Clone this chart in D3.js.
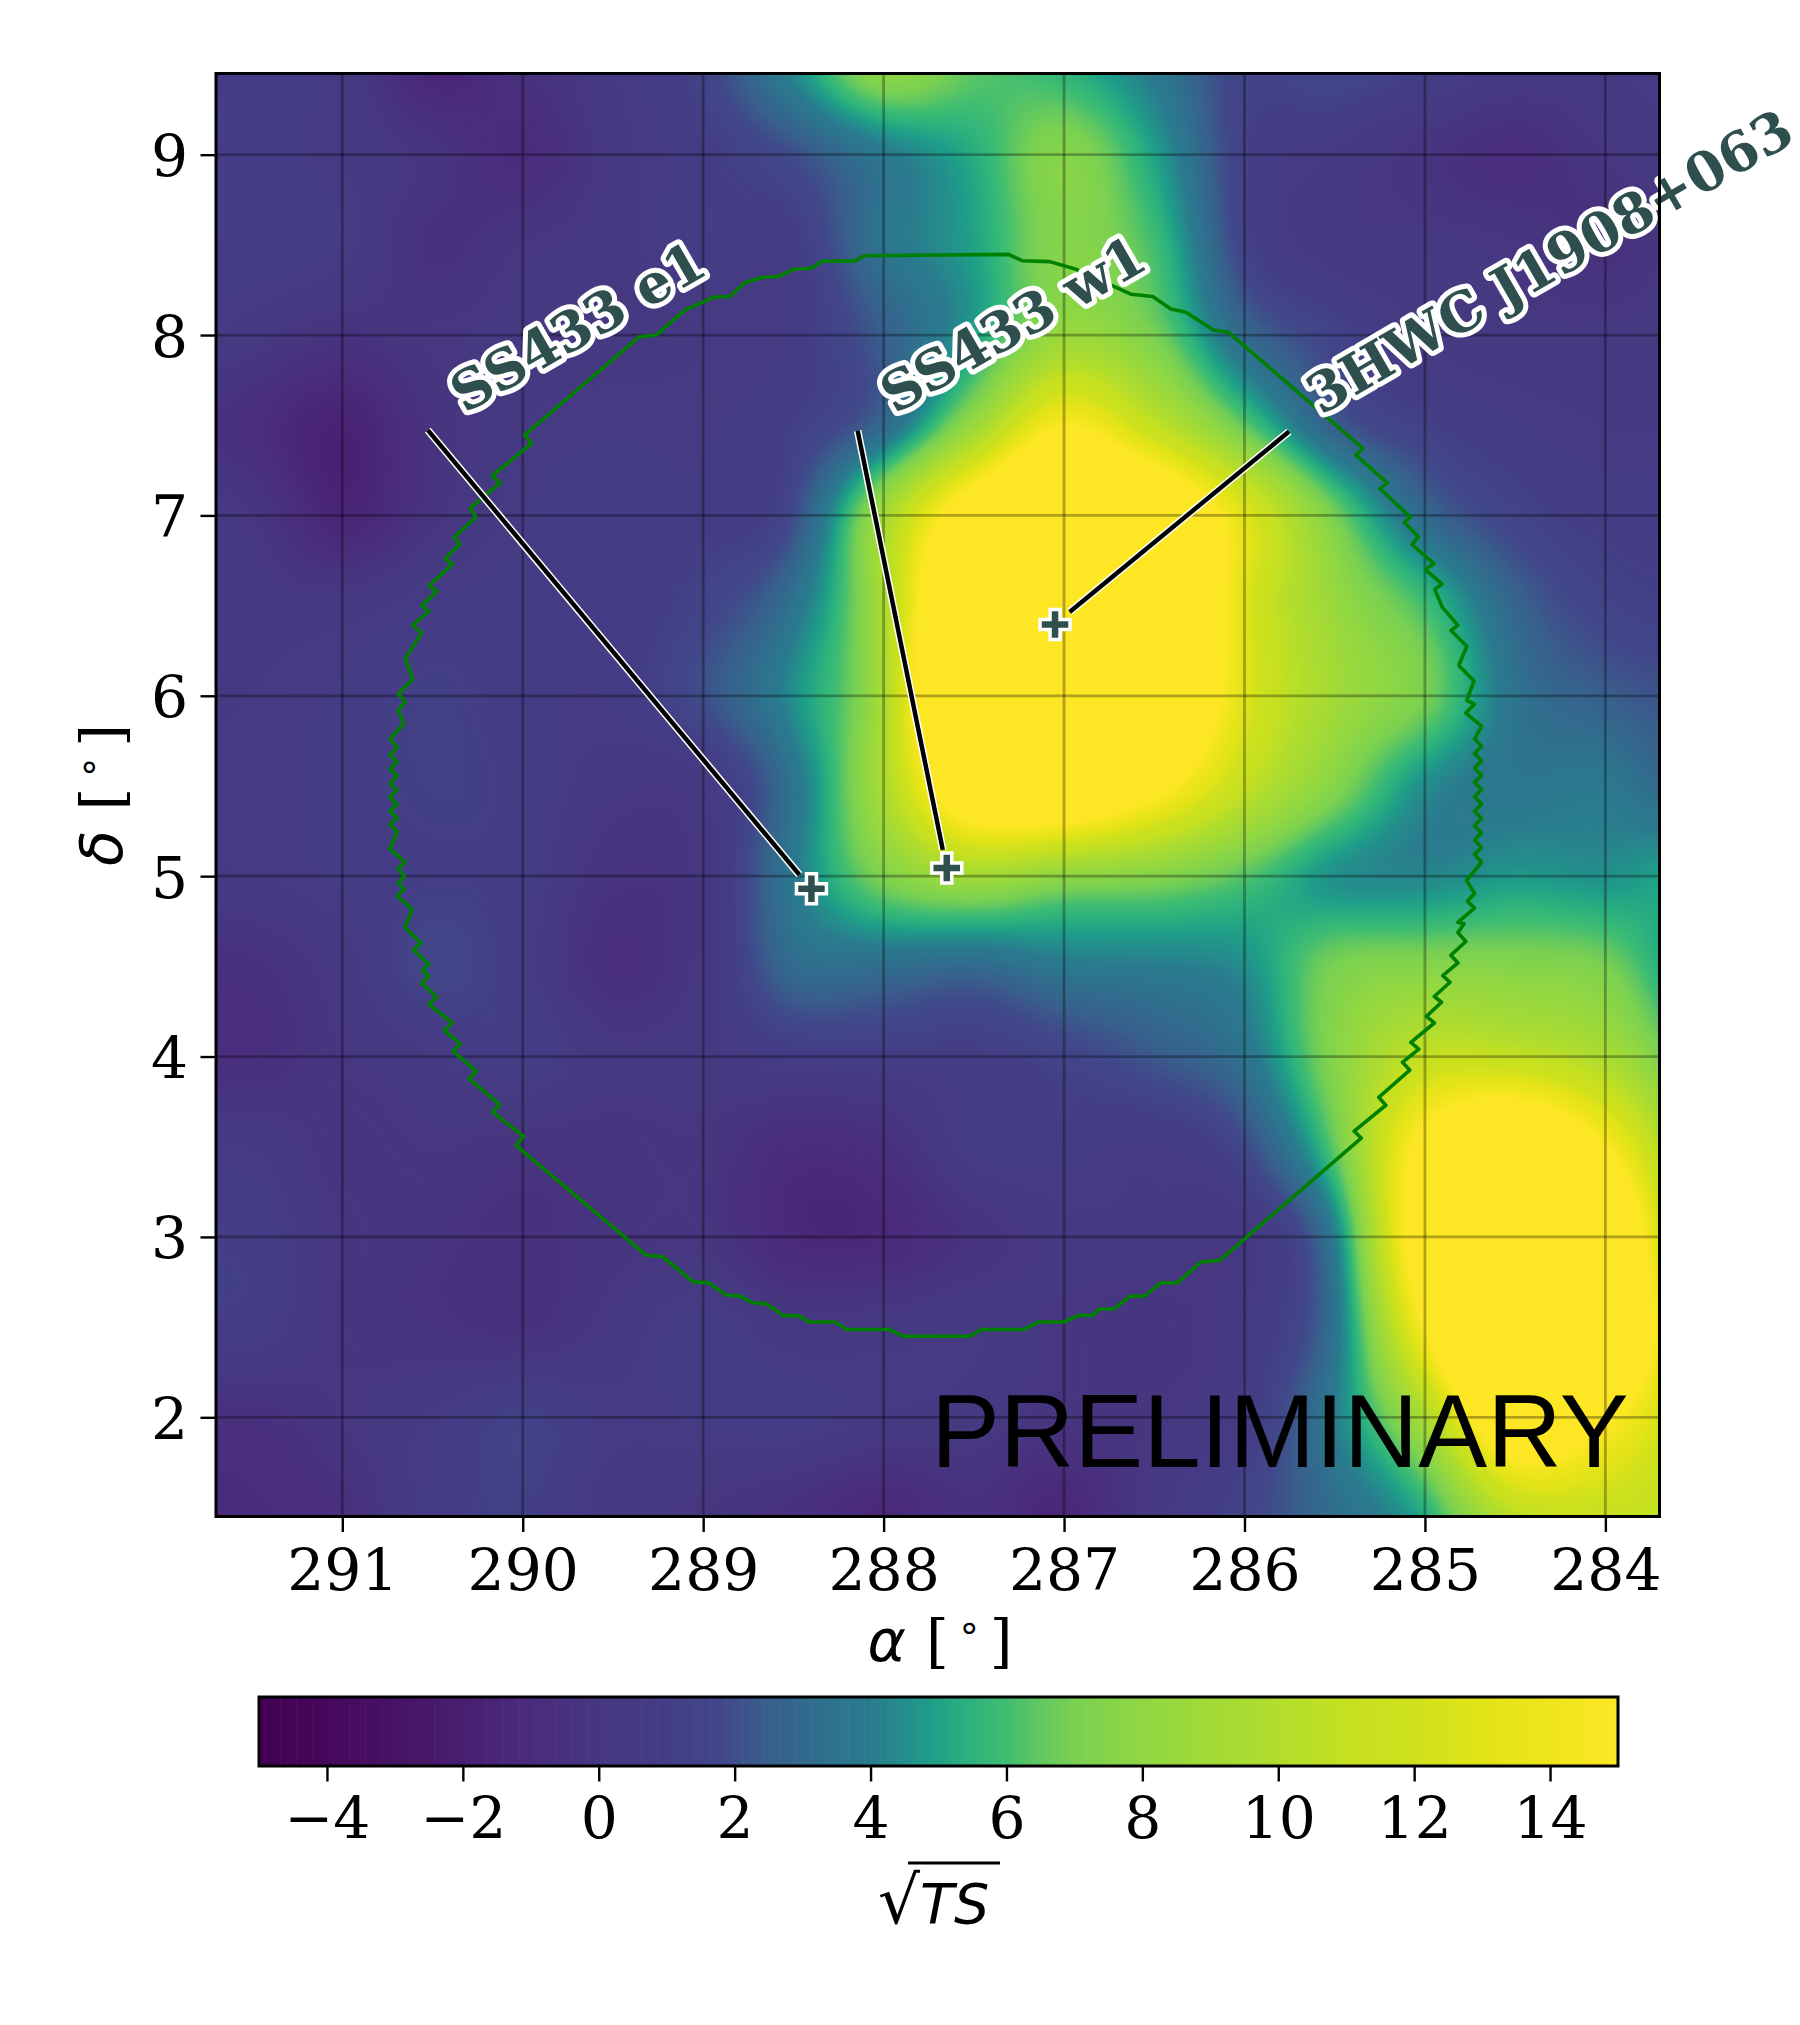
<!DOCTYPE html>
<html lang="en">
<head>
    <meta charset="UTF-8">
    <title>SS433 significance map</title>
    <style>
        body { margin: 0; background: white; }
        text { font-family: "DejaVu Serif", serif; fill: black; }
        .math { font-family: "DejaVu Sans", sans-serif; font-style: italic; }
    </style>
</head>
<body>
    <div id="chart"></div>
    <script src="https://d3js.org/d3.v7.min.js"></script>
    <script>
        // significance values, on a half degree grid
        const raKnots = [292, 291.5, 291, 290.5, 290, 289.5, 289, 288.5, 288, 287.5, 287, 286.5, 286, 285.5, 285, 284.5, 284, 283.5];
        const decKnots = [9.5, 9, 8.5, 8, 7.5, 7, 6.5, 6, 5.5, 5, 4.5, 4, 3.5, 3, 2.5, 2, 1.5, 1];
        const sqrtTS = [
            [1, 1, 0.5, -1.5, -0.5, 0.5, 1.5, 4.5, 8, 6.5, 5.5, 3.8, 1.5, 1.8, 1.2, 0.5, 0.5, 0.7],
            [1, 1, 0.5, -0.2, -1, 0.3, 1, 2, 3.8, 5.3, 7.5, 5, 1.3, 0.5, -0.2, -0.8, 0, 0.5],
            [1, 1, 0.7, -0.5, 0, 0.3, 1, 1, 3.5, 5, 7.5, 6, 1.5, 0.3, 0.2, 0, -0.5, 0.3],
            [0.7, 0.3, -0.3, 0, 0.2, 0.3, 0.5, 0.8, 2.5, 5, 8.5, 7, 3, 1.5, 0.5, 0.2, 0.2, 0.4],
            [0, -0.8, -1.7, -0.3, 0.5, 0.7, 0.7, 1.2, 3, 8.5, 14.8, 11, 6.5, 2.5, 1.3, 0.8, 0.5, 0.5],
            [0.3, 0, -1.5, -0.2, 0.7, 1, 0.9, 1.9, 9, 18, 24, 20, 13, 7, 3, 1.5, 1, 1],
            [0.3, 0.3, 0.3, 0.8, 0.9, 0.9, 1.5, 3.5, 9.5, 24, 28, 24, 13, 8.5, 6, 2.8, 1.5, 1.2],
            [0.4, 0.5, 0.8, 1.2, 0.9, 0.8, 2, 4.5, 9.5, 26, 28, 22, 13, 9, 7, 3.5, 2.5, 2],
            [0.5, 0.6, 0.9, 1.2, 1, 0.2, 0.5, 3.5, 9.5, 19, 20, 16, 11, 7.5, 4.5, 3.7, 3.8, 2.5],
            [0.4, 0.5, 0.8, 1.1, 0.9, -0.3, 0.2, 3.8, 7.2, 9, 8, 7.5, 6.3, 4.6, 4.3, 4.8, 4.6, 5.2],
            [-0.5, -0.5, 0.3, 1.6, 0.8, -0.7, 0.2, 3, 3.2, 3, 3.8, 4, 4.5, 7, 7.5, 7.5, 7, 4.5],
            [-0.6, -0.7, 0, 0.5, 1, 0.2, 0.4, 0.9, 1, 1, 1.5, 2.3, 3.5, 7.5, 11, 11, 9.5, 6],
            [0.5, 0.5, -0.2, 0, -0.2, -0.2, -0.1, -0.9, -0.6, 0.8, 0.9, 0.7, 1.8, 6.5, 16, 20, 15, 8],
            [1, 1, 0, -0.3, -0.5, -0.2, -0.1, -1.2, -1.2, -0.3, 0.3, 0.4, 0.4, 4, 18, 28, 21, 8],
            [0.9, 0.9, -0.1, -0.3, -0.5, 0.2, 0.9, 0.2, 0.3, 0.5, 0, -0.2, 0.6, 3.5, 15, 28, 22, 10],
            [-0.5, -0.6, 0, 0.6, 1.3, 0.6, 0.8, 0.9, 0.5, 0.3, -0.2, 0, 0.8, 4, 9.5, 19, 15.5, 11],
            [-1, -1, -0.6, 0.8, 1.2, 0.3, 0, -0.5, -1.2, -0.5, -1.3, 0.3, 1.5, 3.2, 5.5, 11, 11.5, 10.5],
            [-1, -1, -0.8, 0.8, 1, 0.2, -0.2, -0.5, -1.2, -0.5, -1.3, 0.3, 1.5, 3, 4.5, 7, 9, 9.5]
        ];

        // the colour bar is not plain viridis, it is stretched around 5-7
        const colorValues = [-5, -4, -3, -2, -1, 0, 1, 1.8, 2.5, 3.5, 4, 4.9, 5.5, 6, 6.5, 7, 8, 9, 10, 11, 12, 13, 14, 15];
        const colorHexes = ['#440154', '#46085c', '#471365', '#481f70', '#4a2c7c', '#463780', '#443d85', '#41488a', '#38608c', '#2d748e', '#2a7b8e', '#1f9e89', '#2eb37c', '#40bd72', '#62c860', '#7ad151', '#90d743', '#a2da37', '#b2dd2d', '#c5e021', '#cfe11c', '#e2e418', '#efe51c', '#fde725'];

        const raTicks = [291, 290, 289, 288, 287, 286, 285, 284];
        const decTicks = [2, 3, 4, 5, 6, 7, 8, 9];
        const barTicks = [-4, -2, 0, 2, 4, 6, 8, 10, 12, 14];

        // ROI outline, traced along the stepped edge
        const roiRa = [288.11, 288.16, 288.34, 288.40, 288.50, 288.58, 288.67, 288.77, 288.85, 288.94, 289.10, 289.26, 289.355, 289.99, 289.95, 290.17, 290.125, 290.29, 290.26, 290.38, 290.35, 290.43, 290.39, 290.52, 290.475, 290.56, 290.52, 290.61, 290.56, 290.65, 290.61, 290.69, 290.65,
            290.69, 290.66, 290.736, 290.696, 290.736, 290.696, 290.736, 290.696, 290.736, 290.696, 290.736, 290.696, 290.736, 290.696, 290.736, 290.696, 290.736, 290.652, 290.69, 290.657, 290.69, 290.657, 290.696, 290.613, 290.652, 290.565, 290.605, 290.521, 290.555, 290.521, 290.56, 290.476, 290.521, 290.39, 290.435, 290.346, 290.385, 290.257, 290.298, 290.126, 290.168, 289.995, 290.037, 289.317, 289.225, 289.055, 288.969, 288.872, 288.793, 288.728, 288.649, 288.558, 288.466, 288.414, 288.27, 288.204, 287.969, 287.89,
            287.523, 287.458, 287.222, 287.144, 287, 286.922, 286.843, 286.804, 286.725, 286.634, 286.556, 286.464, 286.373, 286.242, 286.137, 285.353, 285.392, 285.217, 285.256, 285.084, 285.125, 285.034, 285.078, 284.948, 284.992, 284.908, 284.948, 284.861, 284.901, 284.817, 284.856, 284.773, 284.817, 284.783, 284.817, 284.725, 284.765, 284.725, 284.77,
            284.686, 284.725, 284.686, 284.725, 284.686, 284.725, 284.686, 284.725, 284.686, 284.725, 284.686, 284.725, 284.686, 284.725, 284.686, 284.725, 284.686, 284.725, 284.686, 284.773, 284.725,
            284.768, 284.728, 284.812, 284.768, 284.855, 284.818, 284.903, 284.946, 284.906, 284.997, 284.95, 285.071, 285.037, 285.114, 285.08, 285.249, 285.208, 285.383, 285.343, 286.089, 286.173, 286.324, 286.408, 286.509, 286.627, 286.929, 287.08, 287.232, 287.309, 288.11];
        const roiDec = [8.44, 8.41, 8.41, 8.37, 8.365, 8.325, 8.32, 8.29, 8.215, 8.21, 8.14, 8.0, 7.99, 7.445, 7.40, 7.22, 7.18, 7.04, 6.99, 6.88, 6.84, 6.76, 6.73, 6.61, 6.58, 6.50, 6.47, 6.39, 6.35, 6.21, 6.09, 6.01, 5.97,
            5.919, 5.846, 5.759, 5.716, 5.672, 5.635, 5.594, 5.557, 5.513, 5.478, 5.438, 5.397, 5.362, 5.322, 5.287, 5.246, 5.151, 5.078, 5.043, 4.997, 4.962, 4.928, 4.89, 4.817, 4.716, 4.629, 4.591, 4.513, 4.475, 4.446, 4.406, 4.33, 4.29, 4.186, 4.145, 4.07, 4.029, 3.919, 3.878, 3.733, 3.693, 3.557, 3.507, 2.899, 2.89, 2.751, 2.745, 2.678, 2.672, 2.635, 2.629, 2.565, 2.562, 2.528, 2.528, 2.487, 2.487, 2.449,
            2.449, 2.487, 2.487, 2.528, 2.528, 2.565, 2.565, 2.6, 2.6, 2.672, 2.672, 2.745, 2.745, 2.861, 2.87, 3.548, 3.586, 3.73, 3.774, 3.925, 3.968, 4.041, 4.078, 4.186, 4.223, 4.301, 4.333, 4.412, 4.449, 4.519, 4.562, 4.638, 4.687, 4.736, 4.745, 4.823, 4.861, 4.904, 4.977,
            5.078, 5.12, 5.16, 5.2, 5.24, 5.28, 5.32, 5.36, 5.4, 5.44, 5.48, 5.52, 5.56, 5.6, 5.64, 5.68, 5.72, 5.76, 5.832, 5.904, 5.954,
            5.975, 6.082, 6.168, 6.275, 6.362, 6.392, 6.49, 6.59, 6.62, 6.70, 6.733, 6.838, 6.882, 6.962, 6.99, 7.148, 7.18, 7.334, 7.371, 8.016, 8.028, 8.127, 8.145, 8.214, 8.226, 8.363, 8.407, 8.412, 8.447, 8.44];

        const sourceNames = ['SS433 e1', 'SS433 w1', '3HWC J1908+063'];
        const sourceRa = [288.40, 287.65, 287.05];
        const sourceDec = [4.93, 5.045, 6.395];
        const lineStartRa = [290.526, 288.144, 285.753];
        const lineStartDec = [7.473, 7.47, 7.465];
        const lineEndRa = [288.467, 287.672, 286.969];
        const lineEndDec = [5.008, 5.146, 6.465];

        const width = 1800;
        const height = 2025;
        const plot = { left: 216, right: 1659.5, top: 73.5, bottom: 1516.5 };
        const barBox = { left: 259, right: 1618, top: 1697, bottom: 1766 };
        const tickFont = 58.3;

        const x = d3.scaleLinear().domain([291.7, 283.7]).range([plot.left, plot.right]);
        const y = d3.scaleLinear().domain([1.45, 9.45]).range([plot.bottom, plot.top]);
        const barX = d3.scaleLinear().domain([-5, 15]).range([barBox.left, barBox.right]);
        const color = d3.scaleLinear().domain(colorValues).range(colorHexes).clamp(true);

        const svg = d3.select('#chart').append('svg')
            .attr('width', width)
            .attr('height', height)
            .style('display', 'block');

        function catmull(a, b, c, d, t) {
            return b + 0.5 * t * (c - a + t * (2 * a - 5 * b + 4 * c - d + t * (3 * (b - c) + d - a)));
        }

        function clampIdx(i, n) { return Math.max(0, Math.min(n - 1, i)); }

        // smooth value at a ra/dec position from the grid
        function gridValue(ra, dec) {
            const u = (raKnots[0] - ra) / 0.5;
            const v = (decKnots[0] - dec) / 0.5;
            const i = Math.floor(u), j = Math.floor(v);
            const rows = [];
            for (let k = -1; k <= 2; k++) {
                const row = sqrtTS[clampIdx(j + k, decKnots.length)];
                rows.push(catmull(
                    row[clampIdx(i - 1, raKnots.length)],
                    row[clampIdx(i, raKnots.length)],
                    row[clampIdx(i + 1, raKnots.length)],
                    row[clampIdx(i + 2, raKnots.length)],
                    u - i));
            }
            return catmull(rows[0], rows[1], rows[2], rows[3], v - j);
        }

        function drawHeatmap() {
            const w = Math.round(plot.right - plot.left);
            const h = Math.round(plot.bottom - plot.top);
            const canvas = document.createElement('canvas');
            canvas.width = w;
            canvas.height = h;
            const ctx = canvas.getContext('2d');
            const img = ctx.createImageData(w, h);
            const lut = d3.range(0, 801).map(i => d3.rgb(color(-5 + i / 40)));
            for (let py = 0; py < h; py++) {
                const dec = y.invert(plot.top + py + 0.5);
                for (let px = 0; px < w; px++) {
                    const val = gridValue(x.invert(plot.left + px + 0.5), dec);
                    const c = lut[Math.max(0, Math.min(800, Math.round((val + 5) * 40)))];
                    const o = (py * w + px) * 4;
                    img.data[o] = c.r;
                    img.data[o + 1] = c.g;
                    img.data[o + 2] = c.b;
                    img.data[o + 3] = 255;
                }
            }
            ctx.putImageData(img, 0, 0);
            svg.append('image')
                .attr('x', plot.left)
                .attr('y', plot.top)
                .attr('width', plot.right - plot.left)
                .attr('height', plot.bottom - plot.top)
                .attr('preserveAspectRatio', 'none')
                .attr('href', canvas.toDataURL());
        }

        drawHeatmap();

        // grid
        svg.append('g').selectAll('line').data(raTicks).join('line')
            .attr('x1', d => x(d)).attr('x2', d => x(d))
            .attr('y1', plot.top).attr('y2', plot.bottom)
            .attr('stroke', 'black').attr('stroke-opacity', 0.3).attr('stroke-width', 2.8);
        svg.append('g').selectAll('line').data(decTicks).join('line')
            .attr('x1', plot.left).attr('x2', plot.right)
            .attr('y1', d => y(d)).attr('y2', d => y(d))
            .attr('stroke', 'black').attr('stroke-opacity', 0.3).attr('stroke-width', 2.8);

        // roi contour
        const roiLine = d3.line().x(d => x(roiRa[d])).y(d => y(roiDec[d]));
        svg.append('path')
            .attr('d', roiLine(d3.range(roiRa.length)))
            .attr('fill', 'none')
            .attr('stroke', 'green')
            .attr('stroke-width', 3.6)
            .attr('stroke-linejoin', 'round');

        // leader lines and source markers
        const leaders = svg.append('g');
        sourceNames.forEach((name, i) => {
            const x1 = x(lineStartRa[i]), y1 = y(lineStartDec[i]);
            const x2 = x(lineEndRa[i]), y2 = y(lineEndDec[i]);
            leaders.append('line').attr('x1', x1).attr('y1', y1).attr('x2', x2).attr('y2', y2)
                .attr('stroke', 'white').attr('stroke-width', 7.5);
            leaders.append('line').attr('x1', x1).attr('y1', y1).attr('x2', x2).attr('y2', y2)
                .attr('stroke', 'black').attr('stroke-width', 4.5);
        });

        const cross = d3.symbol().type(d3.symbolCross).size(500);
        svg.append('g').selectAll('path').data(sourceNames).join('path')
            .attr('d', cross)
            .attr('transform', (d, i) => `translate(${x(sourceRa[i])},${y(sourceDec[i])})`)
            .attr('fill', 'darkslategray')
            .attr('stroke', 'white')
            .attr('stroke-width', 3.5);

        // source labels, placed from the top of their leader lines
        svg.append('g').selectAll('text').data(sourceNames).join('text')
            .attr('transform', (d, i) => `translate(${x(lineStartRa[i]) + (i === 2 ? 32 : 37)},${y(lineStartDec[i]) - 16}) rotate(-30)`)
            .attr('font-size', 54.5)
            .attr('font-weight', 'bold')
            .style('fill', 'darkslategray')
            .attr('stroke', 'white')
            .attr('stroke-width', 10)
            .attr('stroke-linejoin', 'round')
            .attr('paint-order', 'stroke')
            .text(d => d);

        svg.append('text')
            .attr('x', 931)
            .attr('y', 1466.5)
            .attr('font-size', 103.2)
            .style('font-family', '"Liberation Sans", Arial, sans-serif')
            .text('PRELIMINARY');

        // frame
        svg.append('rect')
            .attr('x', plot.left).attr('y', plot.top)
            .attr('width', plot.right - plot.left).attr('height', plot.bottom - plot.top)
            .attr('fill', 'none').attr('stroke', 'black').attr('stroke-width', 3);

        // axes
        const xAxis = svg.append('g').attr('transform', `translate(0,${plot.bottom})`)
            .call(d3.axisBottom(x).tickValues(raTicks).tickFormat(d3.format('d')).tickSize(15.5).tickSizeOuter(0));
        const yAxis = svg.append('g').attr('transform', `translate(${plot.left},0)`)
            .call(d3.axisLeft(y).tickValues(decTicks).tickFormat(d3.format('d')).tickSize(15.5).tickSizeOuter(0));
        [xAxis, yAxis].forEach(a => {
            a.select('.domain').remove();
            a.selectAll('line').attr('stroke', 'black').attr('stroke-width', 2.4);
            a.selectAll('text').attr('font-size', tickFont).style('font-family', '"DejaVu Serif", serif').style('fill', 'black');
        });
        xAxis.selectAll('text').attr('y', 73).attr('dy', 0);
        yAxis.selectAll('text').attr('x', -28).attr('dy', '0.36em');

        function axisLabel(g, symbol) {
            const t = g.append('text').attr('font-size', tickFont).attr('text-anchor', 'middle');
            t.append('tspan').attr('class', 'math').text(symbol);
            t.append('tspan').attr('dx', 20).text('[');
            t.append('tspan').attr('dx', 11).attr('dy', -11).attr('font-size', 38).style('font-family', '"DejaVu Sans", sans-serif').text('°');
            t.append('tspan').attr('dx', 11).attr('dy', 11).text(']');
        }
        axisLabel(svg.append('g').attr('transform', 'translate(940,1661)'), 'α');
        axisLabel(svg.append('g').attr('transform', 'translate(122,795) rotate(-90)'), 'δ');

        // colour bar
        const steps = d3.range(-5, 15, 20 / 256);
        svg.append('g').selectAll('rect').data(steps).join('rect')
            .attr('x', d => barX(d))
            .attr('y', barBox.top)
            .attr('width', barX(-5 + 20 / 256) - barX(-5) + 0.6)
            .attr('height', barBox.bottom - barBox.top)
            .attr('fill', d => color(d + 10 / 256));
        svg.append('rect')
            .attr('x', barBox.left).attr('y', barBox.top)
            .attr('width', barBox.right - barBox.left).attr('height', barBox.bottom - barBox.top)
            .attr('fill', 'none').attr('stroke', 'black').attr('stroke-width', 3);

        const barAxis = svg.append('g').attr('transform', `translate(0,${barBox.bottom})`)
            .call(d3.axisBottom(barX).tickValues(barTicks).tickFormat(d => String(d).replace('-', '\u2212')).tickSize(15.5).tickSizeOuter(0));
        barAxis.select('.domain').remove();
        barAxis.selectAll('line').attr('stroke', 'black').attr('stroke-width', 2.4);
        barAxis.selectAll('text').attr('font-size', tickFont).attr('y', 72).attr('dy', 0)
            .style('font-family', '"DejaVu Serif", serif').style('fill', 'black');

        // sqrt(TS) label
        svg.append('text').attr('class', 'math').attr('x', 920).attr('y', 1923)
            .attr('font-size', 55.5).text('TS');
        svg.append('text').attr('x', 878).attr('y', 1923)
            .attr('font-size', 66)
            .style('font-family', '"DejaVu Sans", sans-serif')
            .text('√');
        svg.append('line')
            .attr('x1', 908).attr('x2', 1000)
            .attr('y1', 1863).attr('y2', 1863)
            .attr('stroke', 'black').attr('stroke-width', 3);
    </script>
</body>
</html>
